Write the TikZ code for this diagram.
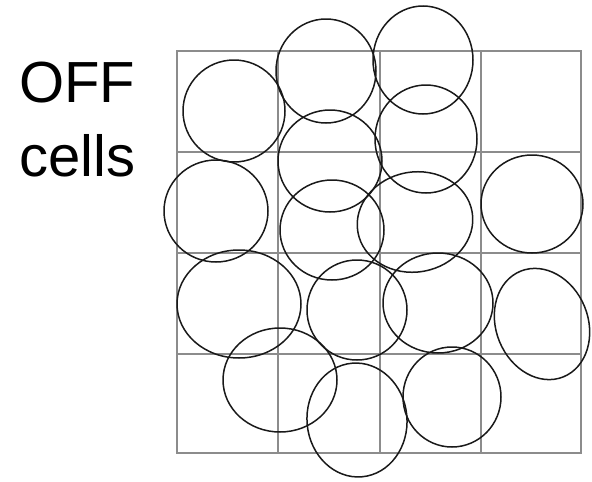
\documentclass[tikz,border=0pt]{standalone}
\usepackage{fontspec}
\setmainfont{Liberation Sans}

\begin{document}
\begin{tikzpicture}[
  x=1pt, y=-1pt,
  gridline/.style={draw=black!45, line width=1.4pt},
  cell/.style={draw=black!90, line width=1.5pt},
  label/.style={anchor=base west, inner sep=0pt, font=\fontsize{58}{66}\selectfont}
]
  \useasboundingbox (0,0) rectangle (592,482);
  % grid
  \draw[gridline] (177,51) rectangle (581,453);
  \draw[gridline] (278,51) -- (278,453);
  \draw[gridline] (380,51) -- (380,453);
  \draw[gridline] (481,51) -- (481,453);
  \draw[gridline] (177,152) -- (581,152);
  \draw[gridline] (177,253) -- (581,253);
  \draw[gridline] (177,354) -- (581,354);
  % receptive fields
  \draw[cell] (234,111) ellipse [x radius=51pt, y radius=51pt];
  \draw[cell] (326,71) ellipse [x radius=50pt, y radius=52pt];
  \draw[cell] (423,60) ellipse [x radius=50pt, y radius=54pt];
  \draw[cell] (330,161) ellipse [x radius=52pt, y radius=51pt];
  \draw[cell] (426,139) ellipse [x radius=51pt, y radius=54pt];
  \draw[cell] (216,211) ellipse [x radius=52pt, y radius=51pt];
  \draw[cell] (332,230) ellipse [x radius=52pt, y radius=50pt];
  \draw[cell] (415,222) ellipse [x radius=58pt, y radius=50pt, rotate=10];
  \draw[cell] (532,204) ellipse [x radius=51pt, y radius=49pt];
  \draw[cell] (239,304) ellipse [x radius=62pt, y radius=54pt];
  \draw[cell] (357,310) ellipse [x radius=50pt, y radius=50pt];
  \draw[cell] (438,303) ellipse [x radius=55pt, y radius=50pt];
  \draw[cell] (542,324) ellipse [x radius=46pt, y radius=57pt, rotate=22];
  \draw[cell] (280,380) ellipse [x radius=57pt, y radius=52pt];
  \draw[cell] (357,420) ellipse [x radius=50pt, y radius=57pt, rotate=5];
  \draw[cell] (452,397) ellipse [x radius=49pt, y radius=50pt];
  % caption
  \node[label] (off) at (19,102) {OFF};
  \node[label] (cells) at (19,176) {cells};
\end{tikzpicture}
\end{document}
